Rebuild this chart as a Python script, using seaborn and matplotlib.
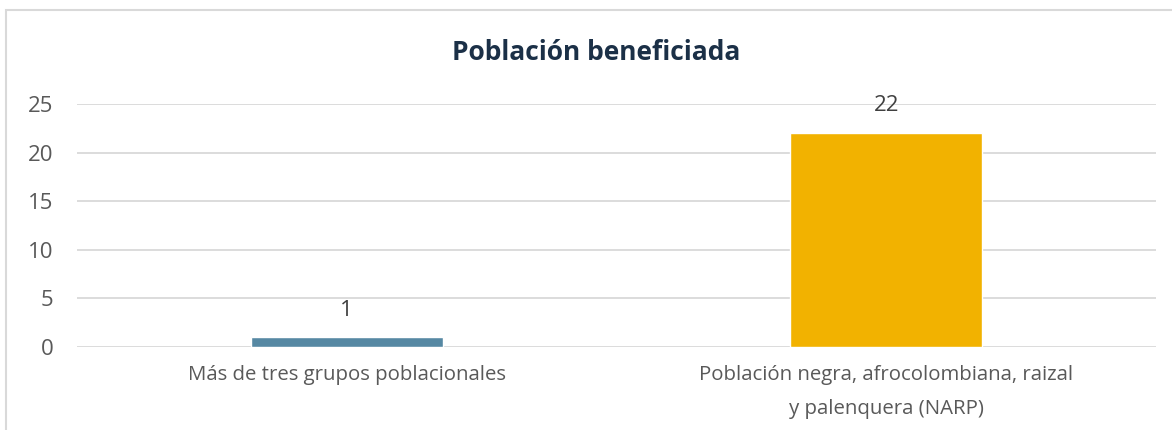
import matplotlib
matplotlib.use("Agg")
import matplotlib.pyplot as plt
import seaborn as sns
import pandas as pd
from matplotlib.patches import Rectangle

# Data
categorias = ["Más de tres grupos poblacionales",
              "Población negra, afrocolombiana, raizal\ny palenquera (NARP)"]
valores = [1, 22]
colores = ["#5688A3", "#F2B200"]
titulo = "Población beneficiada"
yticks = [0, 5, 10, 15, 20, 25]

sns.set_theme(style="white")
plt.rcParams['font.family'] = ['Open Sans', 'DejaVu Sans']

df = pd.DataFrame({"categoria": categorias, "valor": valores})

fig = plt.figure(figsize=(11.72, 4.30), dpi=100)
ax = fig.add_axes([77 / 1172, 1 - 347 / 430, (1156 - 77) / 1172, (347 - 104) / 430])

sns.barplot(data=df, x="categoria", y="valor", hue="categoria",
            palette=colores, width=0.356, legend=False, ax=ax, saturation=1)

ax.set_ylim(0, 25)
ax.set_yticks(yticks)
ax.set_xlabel("")
ax.set_ylabel("")
ax.grid(axis="y", color="#D9D9D9", linewidth=1.3)
ax.set_axisbelow(True)
for s in ax.spines.values():
    s.set_visible(False)
ax.tick_params(axis="y", length=0, pad=17, labelsize=16, labelcolor="#595959")
ax.tick_params(axis="x", length=0, pad=13, labelsize=14.7, labelcolor="#595959")
for lbl in ax.get_xticklabels():
    lbl.set_linespacing(1.9)

# data labels
for cont in ax.containers:
    ax.bar_label(cont, padding=12, fontsize=16, color="#404040")

fig.text(596 / 1172, 1 - 52 / 430, titulo, ha="center", va="center",
         fontsize=19, fontweight="bold", color="#1B3047",
         family=["Open Sans", "DejaVu Sans"])

# outer chart border (cropped at right and bottom)
fig.patches.append(Rectangle((6 / 1172, -0.1), 1.2, 1 - 10 / 430 + 0.1,
                             transform=fig.transFigure, fill=False,
                             edgecolor="#D9D9D9", linewidth=1.5))

fig.savefig("out.png", dpi=100)
